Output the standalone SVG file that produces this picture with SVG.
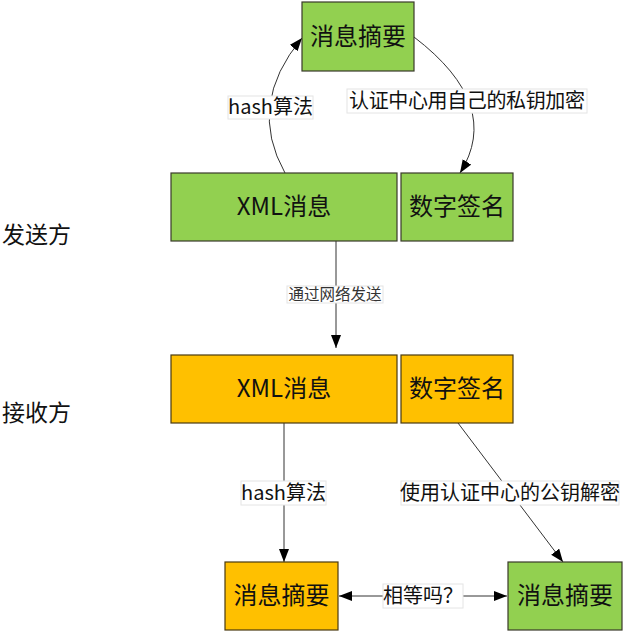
<svg xmlns="http://www.w3.org/2000/svg" width="625" height="634" viewBox="0 0 625 634">
<style>
.g{fill:#92D050;stroke:#3a3a2a;stroke-width:1.2}
.o{fill:#FFC000;stroke:#4a3a10;stroke-width:1.2}
.t{font-family:"Noto Sans CJK SC","Noto Sans",sans-serif;font-size:24px;fill:#111;text-anchor:middle}
.s{font-family:"Noto Sans CJK SC","Noto Sans",sans-serif;font-size:23px;fill:#111}
.l{font-family:"Noto Sans CJK SC","Noto Sans",sans-serif;font-size:20px;fill:#111;text-anchor:middle}
.ls{font-family:"Noto Sans CJK SC","Noto Sans",sans-serif;font-size:15.5px;fill:#333;text-anchor:middle}
.lb{fill:#fff;stroke:#e4e4e4;stroke-width:1}
.c{fill:none;stroke:#333;stroke-width:1}
</style>
<defs>
<marker id="a" markerUnits="userSpaceOnUse" markerWidth="14" markerHeight="12" refX="13" refY="5" orient="auto-start-reverse">
<path d="M0,0 L13,5 L0,10 z" fill="#000"/>
</marker>
</defs>
<text class="s" x="2" y="243">发送方</text>
<text class="s" x="2" y="421">接收方</text>
<g id="connectors">
<path class="c" d="M285,173 Q246.5,104.5 302,38" marker-end="url(#a)"/>
<path class="c" d="M414,37 Q503,105 460,173" marker-end="url(#a)"/>
<path class="c" d="M336,241 L336,348" marker-end="url(#a)"/>
<path class="c" d="M284,423 L284,562" marker-end="url(#a)"/>
<path class="c" d="M458,423 L563,562" marker-end="url(#a)"/>
<path class="c" d="M339,596 L507,596" marker-start="url(#a)" marker-end="url(#a)"/>
<rect class="lb" x="228" y="96" width="85" height="23"/>
<text class="l" x="270.5" y="114">hash算法</text>
<rect class="lb" x="347" y="89" width="240" height="24"/>
<text class="l" x="467" y="108" textLength="236">认证中心用自己的私钥加密</text>
<rect class="lb" x="287" y="286" width="96" height="17"/>
<text class="ls" x="335" y="300">通过网络发送</text>
<rect class="lb" x="241" y="481" width="85" height="24"/>
<text class="l" x="283.5" y="500">hash算法</text>
<rect class="lb" x="401" y="481" width="218" height="24"/>
<text class="l" x="510" y="500">使用认证中心的公钥解密</text>
<rect class="lb" x="383" y="584" width="80" height="24"/>
<text class="l" x="423" y="603">相等吗？</text>
</g>
<g id="send-digest"><rect class="g" x="302" y="2" width="112" height="69"/><text class="t" x="358" y="45">消息摘要</text></g>
<g id="send-xml"><rect class="g" x="171" y="173" width="226" height="68"/><text class="t" x="284" y="215">XML消息</text></g>
<g id="send-sig"><rect class="g" x="401" y="173" width="112" height="68"/><text class="t" x="457" y="215">数字签名</text></g>
<g id="recv-xml"><rect class="o" x="171" y="355" width="226" height="68"/><text class="t" x="284" y="397">XML消息</text></g>
<g id="recv-sig"><rect class="o" x="401" y="355" width="112" height="68"/><text class="t" x="457" y="397">数字签名</text></g>
<g id="recv-digest1"><rect class="o" x="225" y="562" width="113" height="68"/><text class="t" x="281.5" y="604">消息摘要</text></g>
<g id="recv-digest2"><rect class="g" x="508" y="562" width="114" height="68"/><text class="t" x="565" y="604">消息摘要</text></g>
</svg>
